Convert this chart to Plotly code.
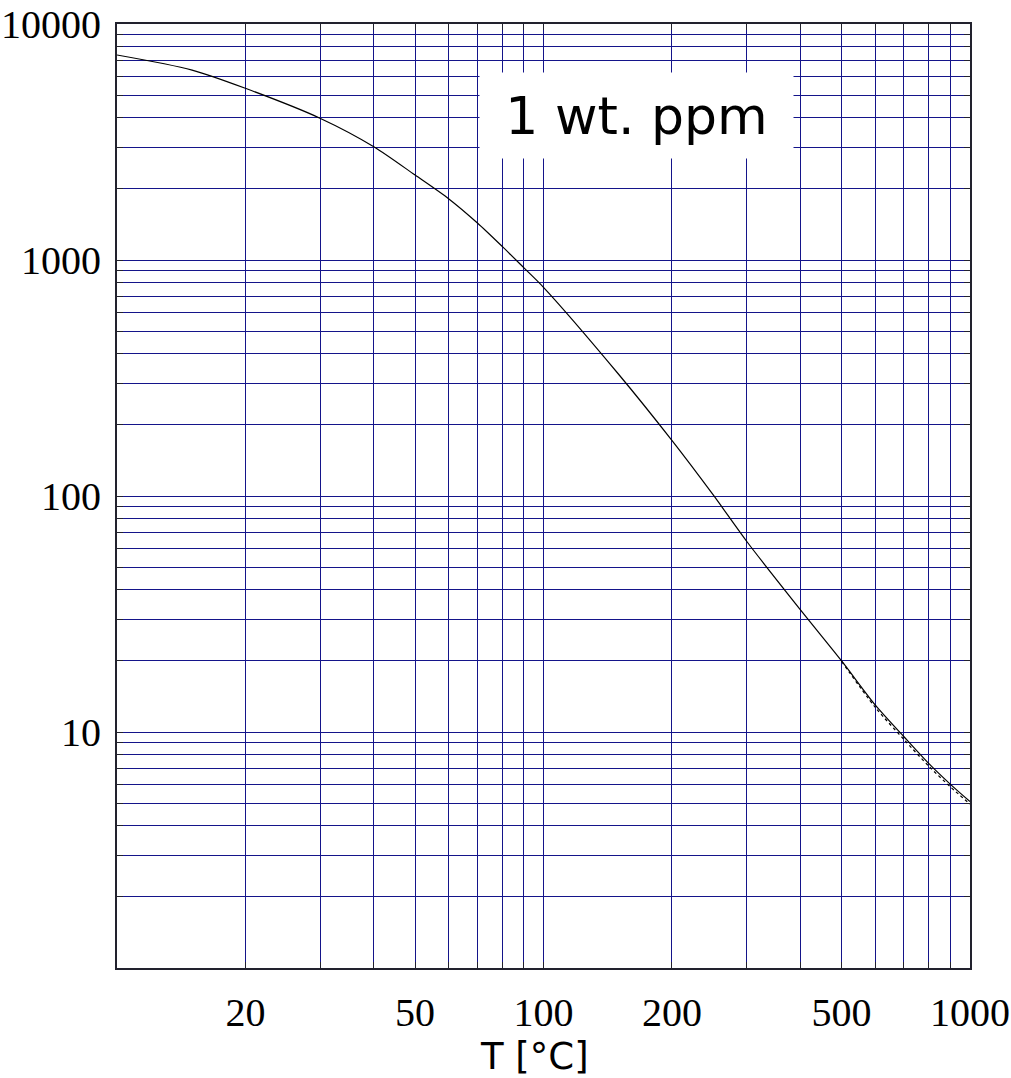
import plotly.graph_objects as go

# Hydrogen concentration curve for 1 wt. ppm, temperature in °C (log-log)
temps = [10, 15, 20, 30, 40, 50, 60, 70, 80, 90, 100, 150, 200, 250, 300,
         400, 500, 600, 700, 800, 900, 1000]
conc = [7390, 6380, 5340, 3980, 3020, 2290, 1815, 1435, 1142, 926, 766, 328,
        172, 101, 64, 33, 20, 13.0, 9.55, 7.36, 6.0, 5.07]

# second (dotted) branch that separates slightly at high temperature
temps_b = [500, 600, 700, 800, 900, 1000]
conc_b = [19.9, 12.7, 9.3, 7.17, 5.85, 4.95]

# tick positions: every 1..9 step per decade, labels only on selected ones
x_ticks = [10, 20, 30, 40, 50, 60, 70, 80, 90,
           100, 200, 300, 400, 500, 600, 700, 800, 900, 1000]
x_labels = {20: "20", 50: "50", 100: "100", 200: "200", 500: "500", 1000: "1000"}
y_ticks = [m * 10 ** e for e in range(4) for m in range(1, 10)] + [10000]
y_labels = {10: "10", 100: "100", 1000: "1000", 10000: "10000"}

title_text = "T [°C]"
label_text = "1 wt. ppm"

grid_col = "#14148a"
frame_col = "#22222e"

fig = go.Figure()
fig.add_trace(go.Scatter(x=temps, y=conc, mode="lines",
                         line=dict(color="black", width=1.2, shape="spline", smoothing=0.8),
                         showlegend=False, hoverinfo="skip"))
fig.add_trace(go.Scatter(x=temps_b, y=conc_b, mode="lines",
                         line=dict(color="black", width=1.2, dash="dot",
                                   shape="spline", smoothing=0.8),
                         showlegend=False, hoverinfo="skip"))

tick_font = dict(family="Liberation Serif, Times New Roman, serif", size=40, color="black")

fig.update_xaxes(
    type="log", range=[1, 3], automargin=False,
    tickvals=x_ticks, ticktext=[x_labels.get(v, "") for v in x_ticks],
    tickfont=tick_font, ticks="inside", ticklen=6, tickcolor=frame_col,
    showgrid=True, gridcolor=grid_col, gridwidth=1,
    showline=True, linecolor=frame_col, linewidth=2, mirror="ticks",
    zeroline=False, ticklabelstandoff=8,
)
fig.update_yaxes(
    type="log", range=[0, 4], automargin=False,
    tickvals=y_ticks, ticktext=[y_labels.get(v, "") for v in y_ticks],
    tickfont=tick_font, ticks="inside", ticklen=6, tickcolor=frame_col,
    showgrid=True, gridcolor=grid_col, gridwidth=1,
    showline=True, linecolor=frame_col, linewidth=2, mirror="ticks",
    zeroline=False, ticklabelstandoff=6,
)

fig.add_annotation(
    x=0.609, y=0.903, xref="paper", yref="paper",
    text=label_text, showarrow=False,
    font=dict(family="DejaVu Sans, Verdana, sans-serif", size=52, color="black"),
    bgcolor="white", width=313, height=85, borderpad=0,
    xanchor="center", yanchor="middle",
)
fig.add_annotation(
    x=0.489, y=-0.1172, xref="paper", yref="paper",
    text=title_text, showarrow=False,
    font=dict(family="DejaVu Sans, Verdana, sans-serif", size=37, color="black"),
    xanchor="center", yanchor="bottom", borderpad=0,
)

fig.update_layout(
    width=1011, height=1078,
    margin=dict(l=117, r=41, t=24, b=110),
    paper_bgcolor="white", plot_bgcolor="white",
)

fig.write_html("out.html")
